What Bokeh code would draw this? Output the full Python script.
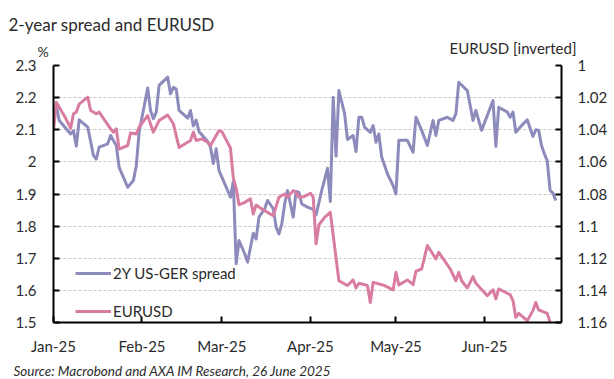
import pandas as pd
from bokeh.plotting import figure
from bokeh.models import (Range1d, LinearAxis, FixedTicker, CustomJSTickFormatter,
                          DatetimeTickFormatter, Legend, LegendItem, Label)
from bokeh.embed import file_html
from bokeh.resources import INLINE

# ---------------- data ----------------
spread_dates = [
    "2025-01-02", "2025-01-03", "2025-01-05", "2025-01-07", "2025-01-08", "2025-01-09", "2025-01-10",
    "2025-01-13", "2025-01-15", "2025-01-16", "2025-01-17", "2025-01-20", "2025-01-21", "2025-01-23",
    "2025-01-24", "2025-01-27", "2025-01-29", "2025-01-30", "2025-01-31",
    "2025-02-03", "2025-02-04", "2025-02-05", "2025-02-06", "2025-02-07", "2025-02-10", "2025-02-11",
    "2025-02-12", "2025-02-13", "2025-02-14", "2025-02-17", "2025-02-18", "2025-02-19", "2025-02-20",
    "2025-02-21", "2025-02-24", "2025-02-25", "2025-02-26", "2025-02-27", "2025-02-28",
    "2025-03-03", "2025-03-04", "2025-03-05", "2025-03-06", "2025-03-07", "2025-03-09", "2025-03-10",
    "2025-03-12", "2025-03-13", "2025-03-14", "2025-03-16", "2025-03-17", "2025-03-19", "2025-03-20",
    "2025-03-21", "2025-03-22", "2025-03-23", "2025-03-24", "2025-03-26", "2025-03-27", "2025-03-28",
    "2025-03-29", "2025-03-31",
    "2025-04-02", "2025-04-03", "2025-04-05", "2025-04-07", "2025-04-08", "2025-04-09", "2025-04-10",
    "2025-04-11", "2025-04-13", "2025-04-14", "2025-04-16", "2025-04-17", "2025-04-18", "2025-04-19",
    "2025-04-20", "2025-04-22", "2025-04-23", "2025-04-24", "2025-04-25", "2025-04-26", "2025-04-28",
    "2025-04-30",
    "2025-05-01", "2025-05-02", "2025-05-05", "2025-05-07", "2025-05-08", "2025-05-10", "2025-05-12",
    "2025-05-14", "2025-05-15", "2025-05-16", "2025-05-19", "2025-05-20", "2025-05-21", "2025-05-22",
    "2025-05-23", "2025-05-26", "2025-05-28", "2025-05-29", "2025-05-31",
    "2025-06-04", "2025-06-05", "2025-06-06", "2025-06-09", "2025-06-10", "2025-06-11", "2025-06-12",
    "2025-06-14", "2025-06-16", "2025-06-18", "2025-06-19", "2025-06-20", "2025-06-21", "2025-06-22",
    "2025-06-23", "2025-06-24", "2025-06-25", "2025-06-26",
]
spread_values = [
    2.175, 2.129, 2.108, 2.087, 2.097, 2.049, 2.131, 2.108, 2.020, 2.009, 2.046, 2.056, 2.082, 2.051,
    1.983, 1.921, 1.942, 1.988, 2.092,
    2.230, 2.160, 2.134, 2.155, 2.238, 2.264, 2.212, 2.232, 2.227, 2.160, 2.136, 2.160, 2.112, 2.130,
    2.094, 2.064, 2.046, 1.995, 2.041, 1.973,
    1.911, 1.890, 1.940, 1.683, 1.755, 1.714, 1.688, 1.778, 1.760, 1.828, 1.854, 1.880, 1.854, 1.797,
    1.776, 1.807, 1.869, 1.911, 1.828, 1.908, 1.905, 1.869, 1.859,
    1.852, 1.835, 1.911, 1.980, 1.877, 2.201, 2.018, 2.222, 2.150, 2.070, 2.082, 2.032, 2.139, 2.139,
    2.108, 2.092, 2.113, 2.061, 2.087, 2.015, 1.963, 1.926,
    1.900, 2.067, 2.067, 2.030, 2.139, 2.098, 2.051, 2.129, 2.082, 2.129, 2.139, 2.134, 2.129, 2.150,
    2.248, 2.222, 2.129, 2.160, 2.098,
    2.191, 2.048, 2.170, 2.155, 2.139, 2.155, 2.092, 2.113, 2.131, 2.079, 2.100, 2.098, 2.051, 2.025,
    2.004, 1.911, 1.903, 1.880,
]

eurusd_dates = [
    "2025-01-01", "2025-01-02", "2025-01-05", "2025-01-07", "2025-01-08", "2025-01-09", "2025-01-10",
    "2025-01-13", "2025-01-14", "2025-01-16", "2025-01-17", "2025-01-21", "2025-01-22", "2025-01-23",
    "2025-01-24", "2025-01-27", "2025-01-28", "2025-01-30", "2025-01-31",
    "2025-02-03", "2025-02-05", "2025-02-07", "2025-02-10", "2025-02-12", "2025-02-14", "2025-02-18",
    "2025-02-19", "2025-02-20", "2025-02-22", "2025-02-24", "2025-02-25", "2025-02-28",
    "2025-03-01", "2025-03-04", "2025-03-05", "2025-03-06", "2025-03-07", "2025-03-09", "2025-03-11",
    "2025-03-12", "2025-03-13", "2025-03-15", "2025-03-19", "2025-03-21", "2025-03-23", "2025-03-24",
    "2025-03-26", "2025-03-27", "2025-03-28", "2025-03-30",
    "2025-04-01", "2025-04-02", "2025-04-03", "2025-04-04", "2025-04-06", "2025-04-08", "2025-04-11",
    "2025-04-14", "2025-04-16", "2025-04-17", "2025-04-18", "2025-04-21", "2025-04-22", "2025-04-23",
    "2025-04-27", "2025-04-30",
    "2025-05-01", "2025-05-02", "2025-05-05", "2025-05-07", "2025-05-08", "2025-05-10", "2025-05-12",
    "2025-05-15", "2025-05-16", "2025-05-20", "2025-05-22", "2025-05-23", "2025-05-24", "2025-05-26",
    "2025-05-28", "2025-05-29",
    "2025-06-02", "2025-06-04", "2025-06-05", "2025-06-06", "2025-06-10", "2025-06-11", "2025-06-12",
    "2025-06-13", "2025-06-16", "2025-06-18", "2025-06-19", "2025-06-20", "2025-06-23", "2025-06-24",
]
eurusd_values = [
    1.0405, 1.0229, 1.0320, 1.0390, 1.0300, 1.0290, 1.0240, 1.0197, 1.0280, 1.0300, 1.0290, 1.0394,
    1.0415, 1.0394, 1.0520, 1.0498, 1.0420, 1.0426, 1.0384,
    1.0312, 1.0415, 1.0343, 1.0308, 1.0363, 1.0510, 1.0467, 1.0415, 1.0467, 1.0457, 1.0478, 1.0498,
    1.0405,
    1.0412, 1.0514, 1.0700, 1.0765, 1.0867, 1.0852, 1.0830, 1.0924, 1.0868, 1.0893, 1.0935, 1.0820,
    1.0800, 1.0820, 1.0779, 1.0789, 1.0820, 1.0816,
    1.0795, 1.0820, 1.1110, 1.0992, 1.0945, 1.0914, 1.1340, 1.1370, 1.1335, 1.1385, 1.1356, 1.1370,
    1.1475, 1.1350, 1.1370, 1.1397,
    1.1288, 1.1366, 1.1335, 1.1364, 1.1280, 1.1267, 1.1121, 1.1204, 1.1163, 1.1267, 1.1340, 1.1288,
    1.1340, 1.1385, 1.1314, 1.1356,
    1.1433, 1.1397, 1.1453, 1.1391, 1.1427, 1.1464, 1.1568, 1.1543, 1.1589, 1.1526, 1.1475, 1.1522,
    1.1543, 1.1600,
]

month_ticks = ["2025-01-01", "2025-02-01", "2025-03-01", "2025-04-01", "2025-05-01", "2025-06-01"]
left_ticks = [1.5, 1.6, 1.7, 1.8, 1.9, 2.0, 2.1, 2.2, 2.3]
right_ticks = [1.0, 1.02, 1.04, 1.06, 1.08, 1.10, 1.12, 1.14, 1.16]

title_text = "2-year spread and EURUSD"
left_unit = "%"
right_unit = "EURUSD [inverted]"
source_text = "Source: Macrobond and AXA IM Research, 26 June 2025"
spread_name = "2Y US-GER spread"
eurusd_name = "EURUSD"

# ---------------- style ----------------
FONT = "Lato"
TXT = "#2b2b2b"
PURPLE = "#8C8BBC"
PINK = "#D97CA2"

def ms(s):
    return pd.Timestamp(s).value // 10**6

x0 = pd.Timestamp("2025-01-01")
x1 = pd.Timestamp("2025-06-28")

p = figure(frame_width=508, frame_height=257, x_axis_type="datetime", title=None,
           x_range=Range1d(x0, x1), y_range=Range1d(1.5, 2.3),
           output_backend="svg", toolbar_location=None,
           min_border_left=53, min_border_right=53, min_border_top=65, min_border_bottom=57)
p.extra_y_ranges = {"eur": Range1d(start=1.16, end=1.0)}
p.outline_line_color = None
p.background_fill_color = "white"
p.border_fill_color = "white"

fmt = CustomJSTickFormatter(code="return String(parseFloat(tick.toFixed(2)));")

def style_axis(ax):
    ax.axis_line_color = "black"
    ax.axis_line_width = 2
    ax.major_tick_line_color = "black"
    ax.major_tick_line_width = 2
    ax.major_tick_in = 6
    ax.major_tick_out = 0
    ax.minor_tick_line_color = None
    ax.major_label_text_font = FONT
    ax.major_label_text_font_size = "15px"
    ax.major_label_text_color = TXT

yl = p.yaxis[0]
yl.ticker = FixedTicker(ticks=left_ticks)
yl.formatter = fmt
yl.major_label_standoff = 17
style_axis(yl)

yr = LinearAxis(y_range_name="eur", ticker=FixedTicker(ticks=right_ticks), formatter=fmt)
yr.major_label_standoff = 16
style_axis(yr)
p.add_layout(yr, "right")

xa = p.xaxis[0]
xa.ticker = FixedTicker(ticks=[ms(t) for t in month_ticks])
xa.formatter = DatetimeTickFormatter(months="%b-%y", days="%b-%y", years="%b-%y", hours="%b-%y")
xa.major_label_standoff = 14
style_axis(xa)

p.xgrid.grid_line_color = None
p.ygrid.ticker = FixedTicker(ticks=left_ticks)
p.ygrid.grid_line_color = "#C8C8C8"
p.ygrid.grid_line_dash = "3 2"
p.ygrid.grid_line_width = 1

sd = pd.to_datetime(spread_dates)
ed = pd.to_datetime(eurusd_dates)
r1 = p.line(sd, spread_values, line_color=PURPLE, line_width=3, line_join="round")
r2 = p.line(ed, eurusd_values, line_color=PINK, line_width=3, line_join="round", y_range_name="eur")

legend = Legend(items=[LegendItem(label=spread_name, renderers=[r1]),
                       LegendItem(label=eurusd_name, renderers=[r2])],
                location=(22, 1), orientation="vertical",
                label_text_font=FONT, label_text_font_size="15px", label_text_color=TXT,
                glyph_width=36, glyph_height=20, label_height=20, label_standoff=2,
                spacing=18, padding=0, margin=0,
                background_fill_alpha=0, border_line_color=None)
p.add_layout(legend, "center")

def lab(x, y, text, side, size="15px", style="normal"):
    p.add_layout(Label(x=x, y=y, x_units="canvas", y_units="canvas", text=text,
                       text_font=FONT, text_font_size=size, text_color=TXT,
                       text_font_style=style, text_baseline="alphabetic", text_align="left"),
                 side)

lab(8, 24, title_text, "above", size="17px")
lab(37, 51, left_unit, "above", size="14px")
lab(449, 47, right_unit, "above", size="15px")
lab(13, 370, source_text, "below", size="13.5px", style="italic")

open("out.html", "w").write(file_html(p, INLINE))
